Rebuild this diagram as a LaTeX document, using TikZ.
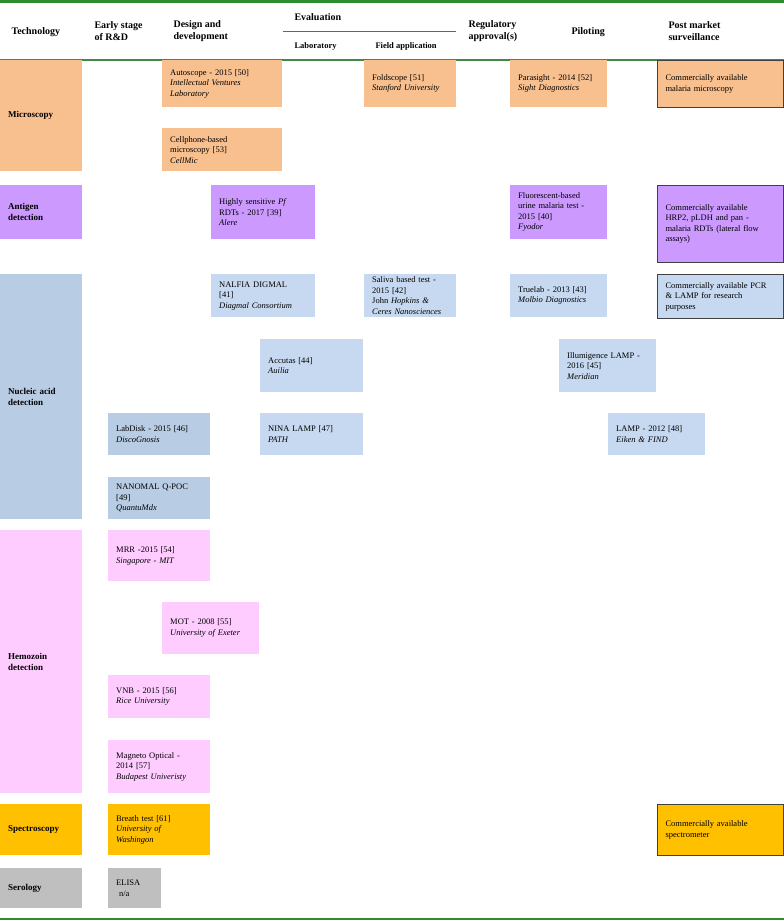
\documentclass[tikz,border=0pt]{standalone}
\usepackage{fontspec}
\setmainfont{Liberation Serif}
\usetikzlibrary{positioning}

\definecolor{micro}{HTML}{F9C08F}
\definecolor{antigen}{HTML}{CC99FF}
\definecolor{nucleic}{HTML}{B8CCE4}
\definecolor{nuclbox}{HTML}{C6D9F1}
\definecolor{hemo}{HTML}{FFCCFF}
\definecolor{spectro}{HTML}{FFC000}
\definecolor{sero}{HTML}{BFBFBF}
\definecolor{rule}{HTML}{2E8B2E}
\definecolor{edge}{HTML}{404040}

\tikzset{
  cell/.style={anchor=north west, inner xsep=8pt, inner ysep=2pt, align=left, font=\fontsize{8.5}{10.5}\selectfont},
  techcell/.style={cell, font=\fontsize{9}{11}\selectfont\bfseries},
  framed/.style={draw=edge, line width=1pt},
  head/.style={anchor=west, align=left, font=\fontsize{10}{12}\selectfont\bfseries},
  subhead/.style={anchor=west, font=\fontsize{8.5}{10}\selectfont\bfseries}
}

% name, x, y, text width, height, colour/style, text
\newcommand{\cellbox}[7]{\node[cell, fill=#6, text width=#4pt, minimum height=#5pt] (#1) at (#2,#3) {#7};}
\newcommand{\techbox}[5]{\node[techcell, fill=#4, text width=66pt, minimum height=#3pt] (#1) at (0,#2) {#5};}

\begin{document}
\begin{tikzpicture}[x=1pt, y=-1pt]
\useasboundingbox (0,0) rectangle (784,921);

% rules
\draw[rule, line width=2.5pt] (0,1.5) -- (784,1.5);
\draw[rule!70!gray, line width=1.5pt] (0,60) -- (784,60);
\draw[rule, line width=2.5pt] (0,919) -- (784,919);

% header
\node[head] (hTech) at (8,32) {Technology};
\node[head] (hEarly) at (91,31) {Early stage\\of R\&D};
\node[head] (hDesign) at (170,31) {Design and\\development};
\node[head] (hEval) at (291,17) {Evaluation};
\coordinate (evalL) at (283,31);
\coordinate (evalR) at (456,31);
\draw[rule, line width=1pt] (evalL) -- (evalR);
\node[subhead] (hLab) at (291,46) {Laboratory};
\node[subhead] (hField) at (372,46) {Field application};
\node[head] (hReg) at (465,31) {Regulatory\\approval(s)};
\node[head] (hPilot) at (568,32) {Piloting};
\node[head] (hPost) at (665,31) {Post market\\surveillance};

% microscopy
\techbox{tMicro}{60}{111}{micro}{Microscopy}
\cellbox{autoscope}{162}{60}{104}{47}{micro}{Autoscope - 2015 [50]\\\textit{Intellectual Ventures}\\\textit{Laboratory}}
\cellbox{cellphone}{162}{128}{104}{43}{micro}{Cellphone-based\\microscopy [53]\\\textit{CellMic}}
\cellbox{foldscope}{364}{60}{76}{47}{micro}{Foldscope [51]\\\textit{Stanford University}}
\cellbox{parasight}{510}{60}{81}{47}{micro}{Parasight - 2014 [52]\\\textit{Sight Diagnostics}}
\cellbox{comMicro}{657}{60}{110}{47}{micro, framed}{Commercially available\\malaria microscopy}

% antigen detection
\techbox{tAntigen}{185}{54}{antigen}{Antigen\\detection}
\cellbox{pfrdt}{211}{185}{88}{54}{antigen}{Highly sensitive \textit{Pf}\\RDTs - 2017 [39]\\\textit{Alere}}
\cellbox{urine}{510}{185}{81}{54}{antigen}{Fluorescent-based\\urine malaria test -\\2015 [40]\\\textit{Fyodor}}
\cellbox{comRDT}{657}{185}{110}{77}{antigen, framed}{Commercially available\\HRP2, pLDH and pan -\\malaria RDTs (lateral flow\\assays)}

% nucleic acid detection
\techbox{tNucleic}{274}{245}{nucleic}{Nucleic acid\\detection}
\cellbox{nalfia}{211}{274}{88}{43}{nuclbox}{NALFIA DIGMAL\\{[41]}\\\textit{Diagmal Consortium}}
\cellbox{saliva}{364}{274}{76}{43}{nuclbox}{Saliva based test -\\2015 [42]\\John \textit{Hopkins \&}\\\textit{Ceres Nanosciences}}
\cellbox{truelab}{510}{274}{81}{43}{nuclbox}{Truelab - 2013 [43]\\\textit{Molbio Diagnostics}}
\cellbox{comPCR}{657}{274}{110}{44}{nuclbox, framed}{Commercially available PCR\\\& LAMP for research\\purposes}
\cellbox{accutas}{260}{339}{87}{53}{nuclbox}{Accutas [44]\\\textit{Auilia}}
\cellbox{illumi}{559}{339}{81}{53}{nuclbox}{Illumigence LAMP -\\2016 [45]\\\textit{Meridian}}
\cellbox{labdisk}{108}{413}{86}{42}{nucleic}{LabDisk - 2015 [46]\\\textit{DiscoGnosis}}
\cellbox{nina}{260}{413}{87}{42}{nuclbox}{NINA LAMP [47]\\\textit{PATH}}
\cellbox{lamp}{608}{413}{81}{42}{nuclbox}{LAMP - 2012 [48]\\\textit{Eiken \& FIND}}
\cellbox{nanomal}{108}{477}{86}{42}{nucleic}{NANOMAL Q-POC\\{[49]}\\\textit{QuantuMdx}}

% hemozoin detection
\techbox{tHemo}{530}{263}{hemo}{Hemozoin\\detection}
\cellbox{mrr}{108}{530}{86}{51}{hemo}{MRR -2015 [54]\\\textit{Singapore - MIT}}
\cellbox{mot}{162}{602}{81}{52}{hemo}{MOT - 2008 [55]\\\textit{University of Exeter}}
\cellbox{vnb}{108}{675}{86}{43}{hemo}{VNB - 2015 [56]\\\textit{Rice University}}
\cellbox{magneto}{108}{740}{86}{53}{hemo}{Magneto Optical -\\2014 [57]\\\textit{Budapest Univeristy}}

% spectroscopy
\techbox{tSpectro}{804}{51}{spectro}{Spectroscopy}
\cellbox{breath}{108}{804}{86}{51}{spectro}{Breath test [61]\\\textit{University of}\\\textit{Washingon}}
\cellbox{comSpectro}{657}{804}{110}{51}{spectro, framed}{Commercially available\\spectrometer}

% serology
\techbox{tSero}{868}{40}{sero}{Serology}
\cellbox{elisa}{108}{868}{37}{40}{sero}{ELISA\\\ n/a}
\end{tikzpicture}
\end{document}
